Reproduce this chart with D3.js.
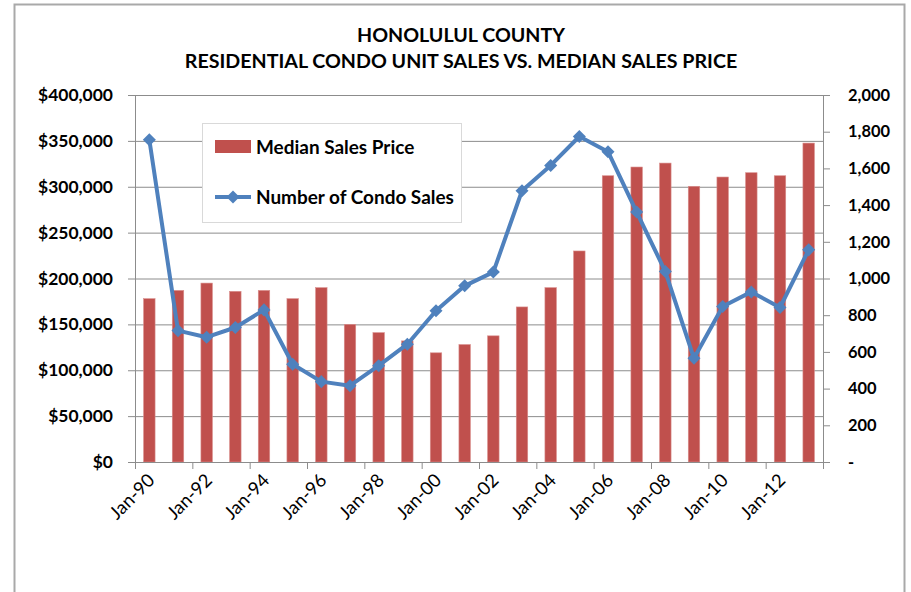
<!DOCTYPE html>
<html>
<head>
<meta charset="utf-8">
<script src="https://cdn.jsdelivr.net/npm/d3@7/dist/d3.min.js"></script>
<style>
  html, body { margin: 0; padding: 0; background: #fff; }
  svg { display: block; }
  text { font-family: Lato, "Open Sans", "Liberation Sans", sans-serif; fill: #000; }
</style>
</head>
<body>
<svg id="chart" width="911" height="592"></svg>
<script>
// ---- data ----
const categories = ["Jan-90","Jan-91","Jan-92","Jan-93","Jan-94","Jan-95","Jan-96","Jan-97",
  "Jan-98","Jan-99","Jan-00","Jan-01","Jan-02","Jan-03","Jan-04","Jan-05","Jan-06","Jan-07",
  "Jan-08","Jan-09","Jan-10","Jan-11","Jan-12","Jan-13"];
const medianPrice = [178000,187000,195000,186000,187000,178000,190000,150000,141000,132000,
  119000,128000,137500,169000,190000,230000,312000,321500,325800,300500,310600,315300,312000,347600];
const condoSales = [1756,716,680,733,829,533,438,416,525,642,824,960,1035,1478,1616,1774,
  1691,1362,1038,565,847,927,842,1156];
const priceTicks = [0,50000,100000,150000,200000,250000,300000,350000,400000];
const salesTicks = [0,200,400,600,800,1000,1200,1400,1600,1800,2000];
const titleLines = ["HONOLULUL COUNTY", "RESIDENTIAL CONDO UNIT SALES VS. MEDIAN SALES PRICE"];
const seriesNames = ["Median Sales Price", "Number of Condo Sales"];

// ---- layout ----
const W = 911, H = 592;
const plot = { left: 135, right: 823, top: 95, bottom: 462 };
const barColor = "#C0504D", lineColor = "#4F81BD", gridColor = "#8c8c8c";

const svg = d3.select("#chart");

// scale a text group's font size so that a sample string reaches a target width
function fitFont(sel, sampleNode, target) {
  const fs = parseFloat(d3.select(sampleNode).style("font-size"));
  const w = sampleNode.getComputedTextLength();
  const nfs = fs * target / w;
  sel.style("font-size", nfs + "px");
  return nfs;
}

// chart frame
svg.append("rect")
  .attr("x", 14.5).attr("y", 4.5).attr("width", 890).attr("height", 620)
  .attr("fill", "#fff").attr("stroke", "#a9a9a9").attr("stroke-width", 2);

// title
const title = svg.append("g").attr("class", "title");
const tl = title.selectAll("text").data(titleLines).join("text")
  .attr("x", 461).attr("y", (d, i) => i === 0 ? 42 : 68)
  .attr("text-anchor", "middle")
  .style("font-weight", "bold").style("font-size", "18px")
  .text(d => d);
fitFont(tl, tl.nodes()[1], 553);

// scales
const x = d3.scaleBand().domain(categories)
  .range([plot.left, plot.right]).paddingInner(0.6).paddingOuter(0.3);
const yL = d3.scaleLinear().domain([0, 400000]).range([plot.bottom, plot.top]);
const yR = d3.scaleLinear().domain([0, 2000]).range([plot.bottom, plot.top]);
const xIdx = d3.scaleLinear().domain([0, categories.length]).range([plot.left, plot.right]);

// horizontal gridlines
svg.append("g")
  .attr("transform", `translate(${plot.left},0)`)
  .call(d3.axisLeft(yL).tickValues(priceTicks).tickSize(-(plot.right - plot.left)).tickFormat(""))
  .call(g => g.select(".domain").remove())
  .call(g => g.selectAll("line").attr("stroke", gridColor).attr("stroke-width", 1));

// bars
svg.append("g").selectAll("rect").data(medianPrice).join("rect")
  .attr("x", (d, i) => x(categories[i]))
  .attr("y", d => yL(d))
  .attr("width", x.bandwidth())
  .attr("height", d => yL(0) - yL(d))
  .attr("fill", barColor)
  .attr("stroke", "#d98e8c").attr("stroke-width", 0.6);

// left axis
const gL = svg.append("g")
  .attr("transform", `translate(${plot.left},0)`)
  .call(d3.axisLeft(yL).tickValues(priceTicks).tickSize(7).tickPadding(15)
    .tickFormat(d => "$" + d3.format(",")(d)));
gL.selectAll("path, line").attr("stroke", gridColor);
const lt = gL.selectAll("text").style("font-weight", "bold").style("font-size", "18px")
  .style("font-family", null).attr("fill", "#000");
fitFont(lt, lt.nodes()[lt.size() - 1], 75);

// right axis
const gR = svg.append("g")
  .attr("transform", `translate(${plot.right},0)`)
  .call(d3.axisRight(yR).tickValues(salesTicks).tickSize(7).tickPadding(18)
    .tickFormat(d => d === 0 ? "-" : d3.format(",")(d)));
gR.selectAll("path, line").attr("stroke", gridColor);
const rt = gR.selectAll("text").style("font-weight", "bold").style("font-size", "18px")
  .style("font-family", null).attr("fill", "#000");
fitFont(rt, rt.nodes()[rt.size() - 1], 42);

// bottom axis: tick marks every two categories
const gB = svg.append("g")
  .attr("transform", `translate(0,${plot.bottom})`)
  .call(d3.axisBottom(xIdx).tickValues(d3.range(0, categories.length + 1, 2)).tickSize(7).tickFormat(""));
gB.selectAll("path, line").attr("stroke", gridColor);

// bottom labels, rotated
const gBL = svg.append("g")
  .attr("transform", `translate(0,${plot.bottom})`)
  .call(d3.axisBottom(x).tickValues(categories.filter((d, i) => i % 2 === 0)).tickSize(0));
gBL.select(".domain").remove();
const bt = gBL.selectAll("text")
  .style("font-family", null).style("font-size", "15px").attr("fill", "#000")
  .attr("text-anchor", "end")
  .attr("x", 0).attr("y", 0).attr("dy", "0.35em")
  .attr("transform", "translate(2,15) rotate(-45)");
fitFont(bt, bt.nodes()[0], 55);

// condo sales line
const lineGen = d3.line()
  .x((d, i) => x(categories[i]) + x.bandwidth() / 2)
  .y(d => yR(d));
svg.append("path").datum(condoSales)
  .attr("d", lineGen)
  .attr("fill", "none").attr("stroke", lineColor)
  .attr("stroke-width", 4).attr("stroke-linejoin", "round");

const diamond = d3.symbol(d3.symbolSquare, 85);
svg.append("g").selectAll("path").data(condoSales).join("path")
  .attr("d", diamond)
  .attr("transform", (d, i) => `translate(${x(categories[i]) + x.bandwidth() / 2},${yR(d)}) rotate(45)`)
  .attr("fill", lineColor);

// legend
const lg = svg.append("g");
lg.append("rect").attr("x", 202.5).attr("y", 123.5).attr("width", 259).attr("height", 99)
  .attr("fill", "#fff").attr("stroke", "#d9d9d9");
lg.append("rect").attr("x", 215).attr("y", 140).attr("width", 36).attr("height", 13)
  .attr("fill", barColor);
lg.append("line").attr("x1", 215).attr("x2", 251).attr("y1", 197).attr("y2", 197)
  .attr("stroke", lineColor).attr("stroke-width", 4);
lg.append("path").attr("d", diamond).attr("transform", "translate(233,197) rotate(45)")
  .attr("fill", lineColor);
const lgt = lg.selectAll("text.lab").data(seriesNames).join("text").attr("class", "lab")
  .attr("x", 256).attr("y", (d, i) => i === 0 ? 147 : 197).attr("dy", "0.35em")
  .style("font-weight", "bold").style("font-size", "17px")
  .text(d => d);
fitFont(lgt, lgt.nodes()[1], 198);
</script>
</body>
</html>
